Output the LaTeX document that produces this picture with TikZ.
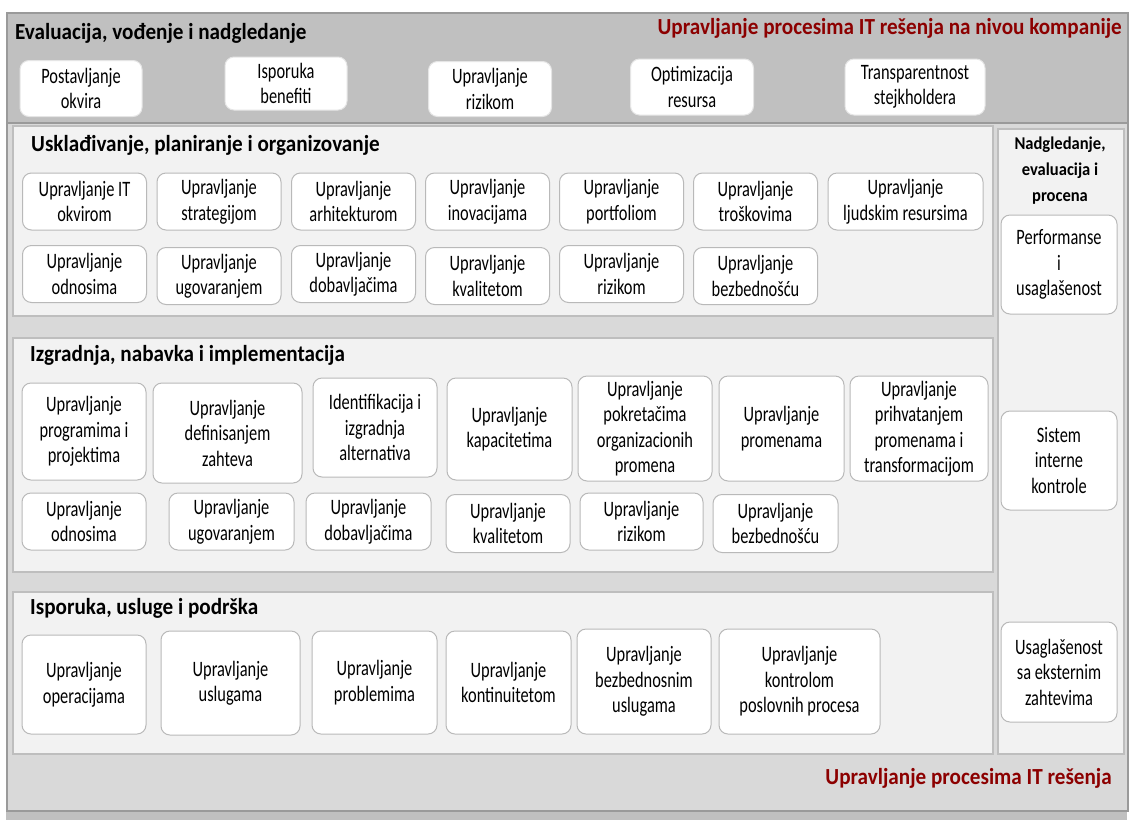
\documentclass[tikz,border=0pt]{standalone}
\usepackage{fontspec}
\setmainfont[FakeStretch=0.745]{Carlito}
\newfontfamily\headfont[FakeStretch=0.92]{Carlito}
\usepackage{tikz}
\definecolor{bandgray}{RGB}{192,192,192}
\definecolor{maingray}{RGB}{217,217,217}
\definecolor{panelfill}{RGB}{242,242,242}
\definecolor{panelline}{RGB}{190,190,190}
\definecolor{boxline}{RGB}{185,185,185}
\definecolor{titlered}{RGB}{140,0,0}
\begin{document}
\begin{tikzpicture}[x=1pt,y=-1pt,
    every node/.style={font=\fontsize{22}{25.5}\selectfont,align=center,inner sep=0pt},
    box/.style={draw=boxline,fill=white,rounded corners=9pt,line width=1pt},
    panel/.style={draw=panelline,fill=panelfill,line width=1.5pt,anchor=north west},
    heading/.style={font=\headfont\fontsize{23}{26}\selectfont\bfseries,anchor=west},
    redtitle/.style={font=\headfont\fontsize{23}{28}\selectfont\bfseries,text=titlered,anchor=east}]

  \useasboundingbox (0,0) rectangle (1129,820);

  \node[anchor=north west,fill=bandgray,minimum width=1121pt,minimum height=10pt] (strip) at (6,810) {};
  \node[panel,fill=maingray,draw=bandgray!80!black,minimum width=1121pt,minimum height=798pt] (frame) at (6,12) {};
  \node[panel,fill=bandgray,draw=bandgray!80!black,minimum width=1121pt,minimum height=110pt] (band) at (6,12) {};

  \node[heading] (edm) at (15,33) {Evaluacija, vođenje i nadgledanje};
  \node[redtitle] (enterprise) at (1122,28) {Upravljanje procesima IT rešenja na nivou kompanije};

  \node[box,draw=white!90!black,minimum width=122pt,minimum height=56pt] (okvir) at (81,88.5) {Postavljanje\\okvira};
  \node[box,draw=white!90!black,minimum width=122pt,minimum height=53pt] (benefiti) at (286,83.5) {Isporuka\\benefiti};
  \node[box,draw=white!90!black,minimum width=123pt,minimum height=55pt] (rizik) at (490,89) {Upravljanje\\rizikom};
  \node[box,draw=white!90!black,minimum width=123pt,minimum height=56pt] (resursi) at (692,87) {Optimizacija\\resursa};
  \node[box,draw=white!90!black,minimum width=140pt,minimum height=56pt] (stejk) at (915,87) {Transparentnost\\stejkholdera};

  % uskladjivanje, planiranje i organizovanje
  \node[panel,minimum width=980pt,minimum height=190pt] (apo) at (12,125) {};
  \node[heading] (apotitle) at (31,145) {Usklađivanje, planiranje i organizovanje};

  \node[box,minimum width=124pt,minimum height=57pt] (apo1) at (84.5,201.5) {Upravljanje IT\\okvirom};
  \node[box,minimum width=124pt,minimum height=57pt] (apo2) at (219,201.5) {Upravljanje\\strategijom};
  \node[box,minimum width=124pt,minimum height=57pt] (apo3) at (353.5,201.5) {Upravljanje\\arhitekturom};
  \node[box,minimum width=124pt,minimum height=57pt] (apo4) at (487.5,201.5) {Upravljanje\\inovacijama};
  \node[box,minimum width=124pt,minimum height=57pt] (apo5) at (621.5,201.5) {Upravljanje\\portfoliom};
  \node[box,minimum width=124pt,minimum height=57pt] (apo6) at (755.5,201.5) {Upravljanje\\troškovima};
  \node[box,minimum width=155pt,minimum height=57pt] (apo7) at (905.5,201.5) {Upravljanje\\ljudskim resursima};
  \node[box,minimum width=124pt,minimum height=57pt] (apo8) at (84.5,274) {Upravljanje\\odnosima};
  \node[box,minimum width=124pt,minimum height=57pt] (apo9) at (219,276) {Upravljanje\\ugovaranjem};
  \node[box,minimum width=124pt,minimum height=57pt] (apo10) at (353.5,274) {Upravljanje\\dobavljačima};
  \node[box,minimum width=124pt,minimum height=57pt] (apo11) at (487.5,276) {Upravljanje\\kvalitetom};
  \node[box,minimum width=124pt,minimum height=57pt] (apo12) at (621.5,274) {Upravljanje\\rizikom};
  \node[box,minimum width=124pt,minimum height=57pt] (apo13) at (755.5,276) {Upravljanje\\bezbednošću};

  % izgradnja, nabavka i implementacija
  \node[panel,minimum width=980pt,minimum height=234pt] (bai) at (12,337) {};
  \node[heading] (baititle) at (30,355) {Izgradnja, nabavka i implementacija};

  \node[box,minimum width=124pt,minimum height=97pt] (bai1) at (84,431.5) {Upravljanje\\programima i\\projektima};
  \node[box,minimum width=149pt,minimum height=100pt] (bai2) at (227.5,433) {Upravljanje\\definisanjem\\zahteva};
  \node[box,minimum width=124pt,minimum height=99pt] (bai3) at (375,427.5) {Identifikacija i\\izgradnja\\alternativa};
  \node[box,minimum width=125pt,minimum height=102pt] (bai4) at (509.5,429) {Upravljanje\\kapacitetima};
  \node[box,minimum width=134pt,minimum height=105pt] (bai5) at (645,428.5) {Upravljanje\\pokretačima\\organizacionih\\promena};
  \node[box,minimum width=125pt,minimum height=105pt] (bai6) at (781.5,428.5) {Upravljanje\\promenama};
  \node[box,minimum width=138pt,minimum height=105pt] (bai7) at (919,428.5) {Upravljanje\\prihvatanjem\\promenama i\\transformacijom};
  \node[box,minimum width=124pt,minimum height=57pt] (bai8) at (84,521.5) {Upravljanje\\odnosima};
  \node[box,minimum width=125pt,minimum height=57pt] (bai9) at (231.5,521.5) {Upravljanje\\ugovaranjem};
  \node[box,minimum width=125pt,minimum height=57pt] (bai10) at (368.5,521.5) {Upravljanje\\dobavljačima};
  \node[box,minimum width=124pt,minimum height=58pt] (bai11) at (508,523.5) {Upravljanje\\kvalitetom};
  \node[box,minimum width=123pt,minimum height=57pt] (bai12) at (641.5,521.5) {Upravljanje\\rizikom};
  \node[box,minimum width=125pt,minimum height=58pt] (bai13) at (775.5,523.5) {Upravljanje\\bezbednošću};

  % isporuka, usluge i podrska
  \node[panel,minimum width=980pt,minimum height=162pt] (dss) at (12,591) {};
  \node[heading] (dsstitle) at (30,608) {Isporuka, usluge i podrška};

  \node[box,minimum width=124pt,minimum height=99pt] (dss1) at (84,684.5) {Upravljanje\\operacijama};
  \node[box,minimum width=139pt,minimum height=104pt] (dss2) at (230.5,683) {Upravljanje\\uslugama};
  \node[box,minimum width=125pt,minimum height=103pt] (dss3) at (374.5,682.5) {Upravljanje\\problemima};
  \node[box,minimum width=125pt,minimum height=103pt] (dss4) at (508.5,682.5) {Upravljanje\\kontinuitetom};
  \node[box,minimum width=134pt,minimum height=105pt] (dss5) at (644,681.5) {Upravljanje\\bezbednosnim\\uslugama};
  \node[box,minimum width=161pt,minimum height=105pt] (dss6) at (799.5,681.5) {Upravljanje\\kontrolom\\poslovnih procesa};

  % nadgledanje, evaluacija i procena
  \node[panel,minimum width=126pt,minimum height=625pt] (mea) at (997,128) {};
  \node[font=\headfont\fontsize{18}{26}\selectfont\bfseries] (meatitle) at (1060,171) {Nadgledanje,\\evaluacija i\\procena};
  \node[box,minimum width=116pt,minimum height=99pt] (mea1) at (1059,264.5) {Performanse\\i\\usaglašenost};
  \node[box,minimum width=116pt,minimum height=99pt] (mea2) at (1059,460.5) {Sistem\\interne\\kontrole};
  \node[box,minimum width=116pt,minimum height=100pt] (mea3) at (1059,672) {Usaglašenost\\sa eksternim\\zahtevima};

  \node[redtitle] (itprocess) at (1112,778) {Upravljanje procesima IT rešenja};
\end{tikzpicture}
\end{document}
